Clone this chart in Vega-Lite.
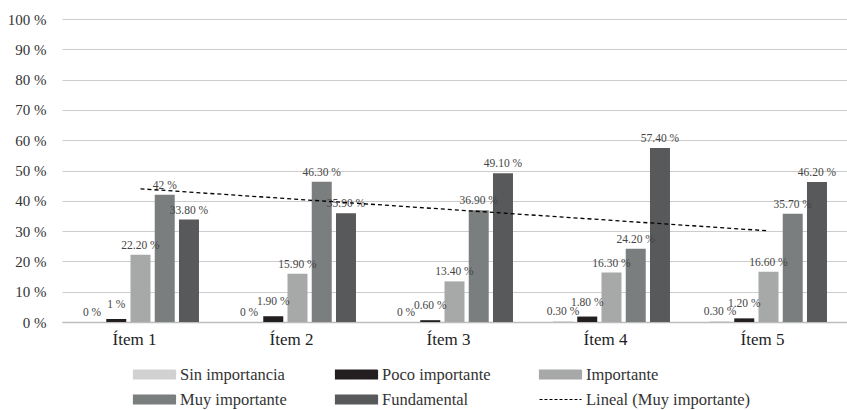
{
  "$schema": "https://vega.github.io/schema/vega-lite/v6.json",
  "width": 785,
  "height": 303,
  "autosize": {"type": "none"},
  "padding": {"left": 62, "top": 19, "right": 0, "bottom": 88},
  "background": "white",
  "config": {
    "font": "Liberation Serif",
    "view": {"stroke": null}
  },
  "datasets": {
    "bars": [
      {"item": "Ítem 1", "serie": "Sin importancia", "valor": 0, "etiqueta": "0 %"},
      {"item": "Ítem 1", "serie": "Poco importante", "valor": 1, "etiqueta": "1 %"},
      {"item": "Ítem 1", "serie": "Importante", "valor": 22.2, "etiqueta": "22.20 %"},
      {"item": "Ítem 1", "serie": "Muy importante", "valor": 42, "etiqueta": "42 %"},
      {"item": "Ítem 1", "serie": "Fundamental", "valor": 33.8, "etiqueta": "33.80 %"},
      {"item": "Ítem 2", "serie": "Sin importancia", "valor": 0, "etiqueta": "0 %"},
      {"item": "Ítem 2", "serie": "Poco importante", "valor": 1.9, "etiqueta": "1.90 %"},
      {"item": "Ítem 2", "serie": "Importante", "valor": 15.9, "etiqueta": "15.90 %"},
      {"item": "Ítem 2", "serie": "Muy importante", "valor": 46.3, "etiqueta": "46.30 %"},
      {"item": "Ítem 2", "serie": "Fundamental", "valor": 35.9, "etiqueta": "35.90 %"},
      {"item": "Ítem 3", "serie": "Sin importancia", "valor": 0, "etiqueta": "0 %"},
      {"item": "Ítem 3", "serie": "Poco importante", "valor": 0.6, "etiqueta": "0.60 %"},
      {"item": "Ítem 3", "serie": "Importante", "valor": 13.4, "etiqueta": "13.40 %"},
      {"item": "Ítem 3", "serie": "Muy importante", "valor": 36.9, "etiqueta": "36.90 %"},
      {"item": "Ítem 3", "serie": "Fundamental", "valor": 49.1, "etiqueta": "49.10 %"},
      {"item": "Ítem 4", "serie": "Sin importancia", "valor": 0.3, "etiqueta": "0.30 %"},
      {"item": "Ítem 4", "serie": "Poco importante", "valor": 1.8, "etiqueta": "1.80 %"},
      {"item": "Ítem 4", "serie": "Importante", "valor": 16.3, "etiqueta": "16.30 %"},
      {"item": "Ítem 4", "serie": "Muy importante", "valor": 24.2, "etiqueta": "24.20 %"},
      {"item": "Ítem 4", "serie": "Fundamental", "valor": 57.4, "etiqueta": "57.40 %"},
      {"item": "Ítem 5", "serie": "Sin importancia", "valor": 0.3, "etiqueta": "0.30 %"},
      {"item": "Ítem 5", "serie": "Poco importante", "valor": 1.2, "etiqueta": "1.20 %"},
      {"item": "Ítem 5", "serie": "Importante", "valor": 16.6, "etiqueta": "16.60 %"},
      {"item": "Ítem 5", "serie": "Muy importante", "valor": 35.7, "etiqueta": "35.70 %"},
      {"item": "Ítem 5", "serie": "Fundamental", "valor": 46.2, "etiqueta": "46.20 %"}
    ],
    "trend": [
      {"item": "Ítem 1", "valor": 43.96, "serie": "Lineal (Muy importante)"},
      {"item": "Ítem 5", "valor": 30.08, "serie": "Lineal (Muy importante)"}
    ]
  },
  "encoding": {
    "x": {
      "field": "item",
      "type": "nominal",
      "sort": ["Ítem 1", "Ítem 2", "Ítem 3", "Ítem 4", "Ítem 5"],
      "scale": {"paddingInner": 0.255, "paddingOuter": 0.1275},
      "axis": {
        "title": null,
        "labelAngle": 0,
        "labelFontSize": 17,
        "labelColor": "#222222",
        "labelPadding": 9,
        "labelOffset": -6,
        "ticks": false,
        "domain": true,
        "domainColor": "#bdbdbd",
        "domainWidth": 1.5,
        "grid": false
      }
    },
    "y": {
      "field": "valor",
      "type": "quantitative",
      "scale": {"domain": [0, 100], "nice": false},
      "axis": {
        "title": null,
        "values": [0, 10, 20, 30, 40, 50, 60, 70, 80, 90, 100],
        "labelExpr": "datum.value + ' %'",
        "labelFontSize": 15,
        "labelColor": "#333333",
        "labelPadding": 16,
        "ticks": false,
        "domain": false,
        "grid": true,
        "gridColor": "#cccccc",
        "gridWidth": 1
      }
    },
    "xOffset": {
      "field": "serie",
      "type": "nominal",
      "sort": ["Sin importancia", "Poco importante", "Importante", "Muy importante", "Fundamental"],
      "scale": {"paddingInner": 0.175, "paddingOuter": 0}
    }
  },
  "layer": [
    {
      "data": {"name": "bars"},
      "mark": {"type": "bar"},
      "encoding": {
        "color": {
          "field": "serie",
          "type": "nominal",
          "scale": {
            "domain": ["Sin importancia", "Poco importante", "Importante", "Muy importante", "Fundamental", "Lineal (Muy importante)"],
            "range": ["#d1d1d1", "#231f20", "#a7a8a8", "#7b7e7e", "#58595b", "#000000"]
          },
          "legend": {
            "title": null,
            "orient": "none",
            "legendX": 81,
            "legendY": 344,
            "direction": "horizontal",
            "columns": 3,
            "columnPadding": 46,
            "rowPadding": 5,
            "padding": 0,
            "labelFont": "Liberation Serif",
            "labelFontSize": 16.5,
            "labelColor": "#333333",
            "labelOffset": 14,
            "labelLimit": 400,
            "symbolSize": 441,
            "symbolStrokeWidth": 0,
            "symbolOpacity": 1,
            "encode": {
              "symbols": {
                "update": {
                  "shape": {"signal": "datum.value === 'Lineal (Muy importante)' ? 'M-2,0H2' : 'M-2,-0.42H2V0.42H-2Z'"},
                  "fill": {"signal": "datum.value === 'Lineal (Muy importante)' ? 'transparent' : scale('color', datum.value)"},
                  "stroke": {"signal": "datum.value === 'Lineal (Muy importante)' ? '#000000' : 'transparent'"},
                  "strokeDash": {"signal": "datum.value === 'Lineal (Muy importante)' ? [3, 2] : [1, 0]"},
                  "strokeWidth": {"value": 1.2},
                  "opacity": {"value": 1}
                }
              }
            }
          }
        }
      }
    },
    {
      "data": {"name": "bars"},
      "transform": [{"filter": "datum.serie !== 'Poco importante'"}],
      "mark": {"type": "text", "baseline": "bottom", "dy": -4, "fontSize": 11.5, "fill": "#444444"},
      "encoding": {
        "text": {"field": "etiqueta"}
      }
    },
    {
      "data": {"name": "bars"},
      "transform": [{"filter": "datum.serie === 'Poco importante'"}],
      "mark": {"type": "text", "baseline": "bottom", "dy": -9, "fontSize": 11.5, "fill": "#444444"},
      "encoding": {
        "text": {"field": "etiqueta"}
      }
    },
    {
      "data": {"name": "trend"},
      "mark": {"type": "line", "strokeDash": [4, 3], "strokeWidth": 1.3},
      "encoding": {
        "xOffset": null,
        "color": {"field": "serie", "type": "nominal"}
      }
    }
  ]
}
